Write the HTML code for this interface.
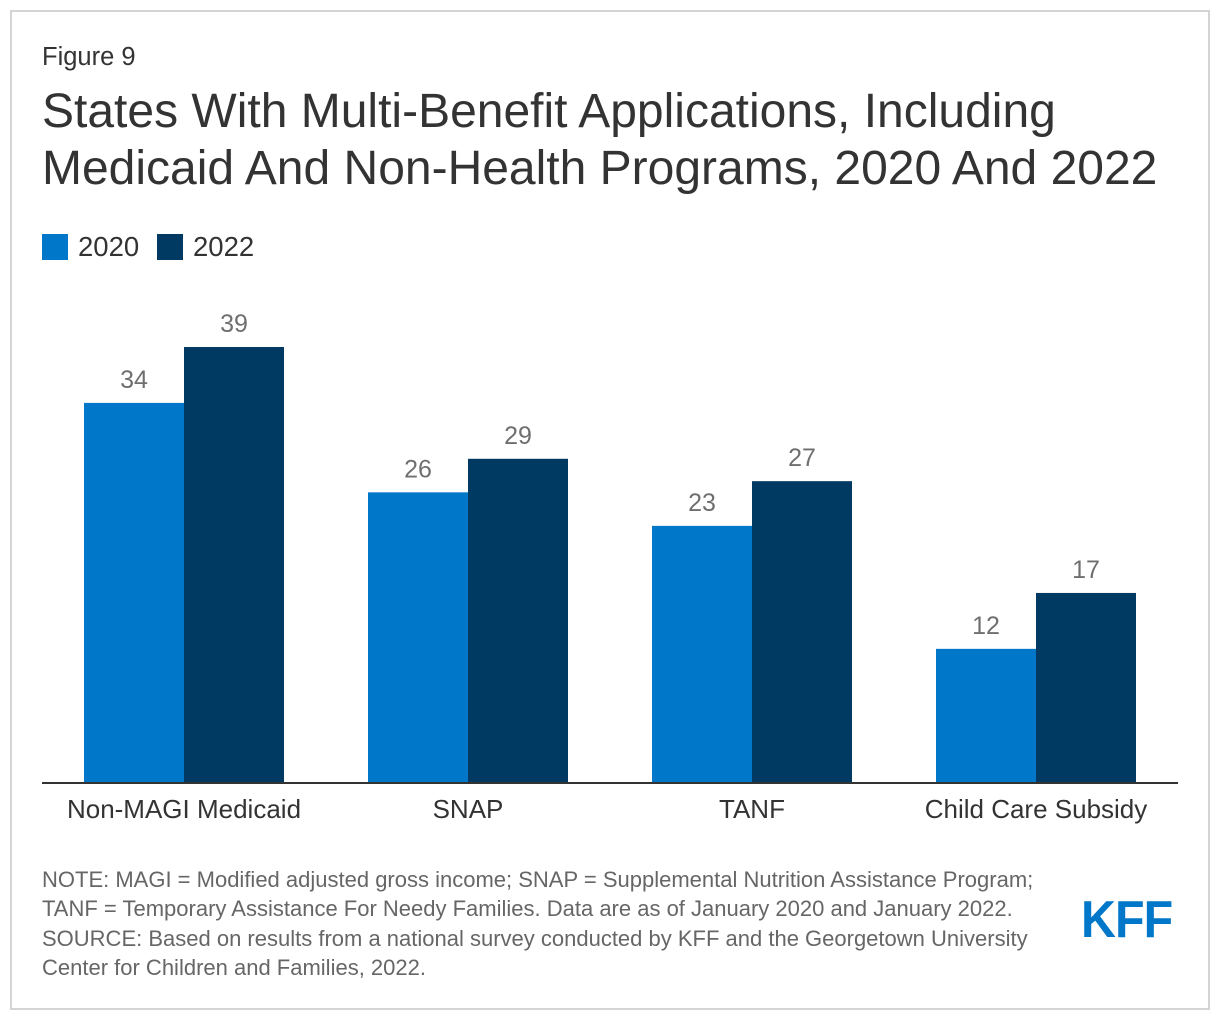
<!DOCTYPE html>
<html><head><meta charset="utf-8"><style>
body{margin:0;width:1220px;height:1020px;background:#fff;font-family:"Liberation Sans",Arial,sans-serif;position:relative;overflow:hidden}
.frame{position:absolute;left:10px;top:10px;width:1196px;height:996px;border:2px solid #d4d4d4}
.t{position:absolute;color:#333;white-space:nowrap}
</style></head><body>
<div class="frame"></div>
<div class="t" style="left:42px;top:43px;font-size:25.5px">Figure 9</div>
<div class="t" style="left:42px;top:83px;font-size:48px;line-height:57px;color:#333">States With Multi-Benefit Applications, Including<br>Medicaid And Non-Health Programs, 2020 And 2022</div>
<div style="position:absolute;left:42px;top:231px;font-size:27.5px;color:#333">
 <span style="position:absolute;left:0;top:0;white-space:nowrap"><span style="position:absolute;left:0;top:3px;width:26px;height:26px;background:#0077c8"></span><span style="position:absolute;left:36px;top:0">2020</span></span>
 <span style="position:absolute;left:115px;top:0;white-space:nowrap"><span style="position:absolute;left:0;top:3px;width:26px;height:26px;background:#003a63"></span><span style="position:absolute;left:36px;top:0">2022</span></span>
</div>
<svg id="chart" width="1220" height="1020" style="position:absolute;left:0;top:0"></svg>
<div class="t" style="left:42px;top:865px;font-size:22px;line-height:29.3px;color:#666">NOTE: MAGI = Modified adjusted gross income; SNAP = Supplemental Nutrition Assistance Program;<br>TANF = Temporary Assistance For Needy Families. Data are as of January 2020 and January 2022.<br>SOURCE: Based on results from a national survey conducted by KFF and the Georgetown University<br>Center for Children and Families, 2022.</div>
<div class="t" style="left:1081px;top:890px;font-size:52px;font-weight:bold;color:#0077c8;letter-spacing:-1px;transform:scaleX(0.93);transform-origin:left">KFF</div>
<script>
const categories=["Non-MAGI Medicaid","SNAP","TANF","Child Care Subsidy"];
const values2020=[34,26,23,12];
const values2022=[39,29,27,17];
const svg=document.getElementById('chart');const NS="http://www.w3.org/2000/svg";
const baseY=783,scale=436/39,groupStart=184,groupStep=284,barW=100;
const y=v=>baseY-v*scale;
const x=i=>groupStart+i*groupStep;
function mk(tag,attrs){const e=document.createElementNS(NS,tag);for(const k in attrs)e.setAttribute(k,attrs[k]);svg.appendChild(e);return e;}
categories.forEach((c,i)=>{
 [[values2020,"#0077c8",-barW,"2020"],[values2022,"#003a63",0,"2022"]].forEach(([arr,col,off,yr])=>{
  const v=arr[i];
  const r=mk('rect',{x:x(i)+off,y:y(v),width:barW,height:v*scale,fill:col});
  
  
  const t=mk('text',{x:x(i)+off+barW/2,y:y(v)-15,'text-anchor':'middle','font-size':25,fill:'#6f6f6f','font-family':'Liberation Sans, Arial, sans-serif'});
  t.textContent=v;
  
  
 });
 const l=mk('text',{x:x(i),y:818,'text-anchor':'middle','font-size':26,fill:'#333','font-family':'Liberation Sans, Arial, sans-serif'});
 l.textContent=c;
 
 
});
const ax=mk('line',{x1:42,x2:1178,y1:baseY,y2:baseY,stroke:'#333','stroke-width':2});


</script>
</body></html>
